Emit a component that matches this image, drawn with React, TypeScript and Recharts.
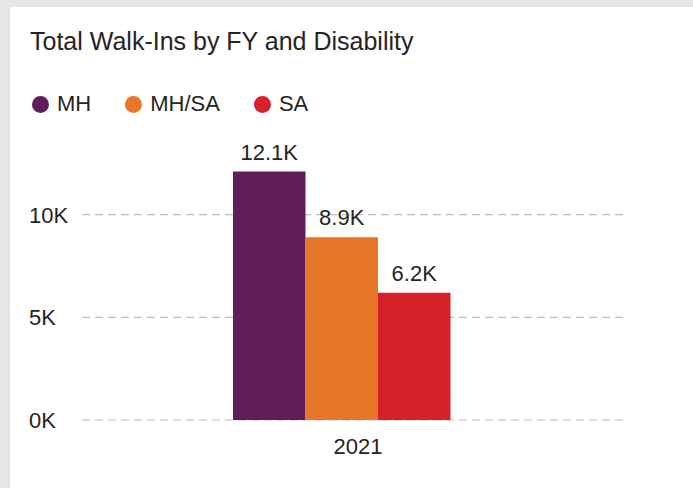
import { Bar, BarChart, CartesianGrid, LabelList, XAxis, YAxis } from 'recharts'

const years = ['2021']
const mhValues = [12100]
const mhsaValues = [8900]
const saValues = [6200]
const yTicks = [0, 5000, 10000]

const seriesNames = ['MH', 'MH/SA', 'SA']
const seriesColors = ['#611C5A', '#E87628', '#D62129']

const FONT = "'Liberation Sans', Arial, sans-serif"
const TEXT = '#252423'

const data = years.map((fy, i) => ({
  fy,
  MH: mhValues[i],
  'MH/SA': mhsaValues[i],
  SA: saValues[i],
}))

const fmtK = (v: number) => `${(v / 1000).toFixed(1)}K`

function YTick({ y, payload }: any) {
  return (
    <text x={29} y={y} dy="0.36em" textAnchor="start" fontSize={22} fill={TEXT} fontFamily={FONT}>
      {`${payload.value / 1000}K`}
    </text>
  )
}

function XTick({ x, y, payload }: any) {
  return (
    <text x={x + 16.5} y={y} dy={26} textAnchor="middle" fontSize={22} fill={TEXT} fontFamily={FONT}>
      {payload.value}
    </text>
  )
}

export default function App() {
  return (
    <div
      style={{
        position: 'absolute',
        left: 0,
        top: 0,
        width: 693,
        height: 488,
        background: '#e6e6e6',
        fontFamily: FONT,
        overflow: 'hidden',
      }}
    >
      <div style={{ position: 'absolute', left: 10, top: 7, right: 0, bottom: 0, background: '#fff' }} />
      <div style={{ position: 'absolute', left: 30, top: 27, fontSize: 25, color: TEXT, whiteSpace: 'nowrap' }}>
        Total Walk-Ins by FY and Disability
      </div>
      <div style={{ position: 'absolute', left: 32, top: 91, display: 'flex', alignItems: 'center' }}>
        {seriesNames.map((name, i) => (
          <div key={name} style={{ display: 'flex', alignItems: 'center', marginRight: 34 }}>
            <span
              style={{
                width: 17,
                height: 17,
                borderRadius: '50%',
                background: seriesColors[i],
                display: 'inline-block',
                marginRight: 8,
              }}
            />
            <span style={{ fontSize: 22, color: TEXT, lineHeight: '26px' }}>{name}</span>
          </div>
        ))}
      </div>
      <div style={{ position: 'absolute', left: 0, top: 0 }}>
        <BarChart
          width={693}
          height={488}
          data={data}
          margin={{ top: 112, right: 65, bottom: 38, left: 0 }}
          barGap={0}
          barSize={72.5}
        >
          <CartesianGrid
            vertical={false}
            horizontalValues={yTicks}
            stroke="#bdbdbd"
            strokeWidth={1.2}
            strokeDasharray="8 5"
          />
          <XAxis
            dataKey="fy"
            height={30}
            axisLine={false}
            tickLine={false}
            padding={{ left: 0, right: 27 }}
            tick={<XTick />}
          />
          <YAxis
            width={82}
            domain={[0, 15000]}
            ticks={yTicks}
            axisLine={false}
            tickLine={false}
            tick={<YTick />}
          />
          {seriesNames.map((name, i) => (
            <Bar key={name} dataKey={name} fill={seriesColors[i]} isAnimationActive={false}>
              <LabelList
                dataKey={name}
                position="top"
                offset={12}
                formatter={(v: any) => fmtK(Number(v))}
                fontSize={22}
                fill={TEXT}
                fontFamily={FONT}
              />
            </Bar>
          ))}
        </BarChart>
      </div>
    </div>
  )
}
